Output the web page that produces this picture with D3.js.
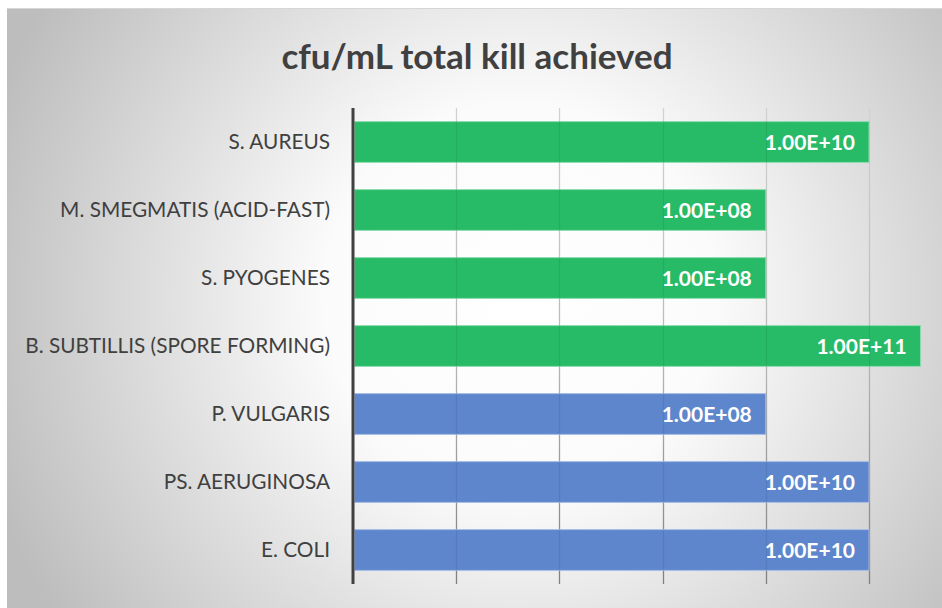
<!DOCTYPE html>
<html>
<head>
<meta charset="utf-8">
<script src="https://cdn.jsdelivr.net/npm/d3@7"></script>
<style>
html,body{margin:0;padding:0;background:#fff;}
svg{display:block;}
</style>
</head>
<body>
<script>
const title = "cfu/mL total kill achieved";
const categories = ["S. AUREUS","M. SMEGMATIS (ACID-FAST)","S. PYOGENES","B. SUBTILLIS (SPORE FORMING)","P. VULGARIS","PS. AERUGINOSA","E. COLI"];
const values = [1e10, 1e8, 1e8, 1e11, 1e8, 1e10, 1e10];
const groups = ["green","green","green","green","blue","blue","blue"];
const gridValues = [1e2, 1e4, 1e6, 1e8, 1e10];

const W = 942, H = 608;
const svg = d3.select("body").append("svg").attr("width", W).attr("height", H);
const defs = svg.append("defs");
const rg = defs.append("radialGradient").attr("id","bg")
  .attr("gradientUnits","userSpaceOnUse").attr("cx",520).attr("cy",300).attr("r",560);
rg.append("stop").attr("offset","0").attr("stop-color","#ffffff");
rg.append("stop").attr("offset","0.35").attr("stop-color","#fbfbfb");
rg.append("stop").attr("offset","1").attr("stop-color","#bdbdbd");
const gg = defs.append("linearGradient").attr("id","grid")
  .attr("gradientUnits","userSpaceOnUse").attr("x1",0).attr("y1",108).attr("x2",0).attr("y2",584);
gg.append("stop").attr("offset","0").attr("stop-color","#e2e2e2");
gg.append("stop").attr("offset","0.5").attr("stop-color","#c8c8c8");
gg.append("stop").attr("offset","1").attr("stop-color","#8a8a8a");

// chart area
svg.append("rect").attr("x",7).attr("y",8).attr("width",W-7).attr("height",H-8).attr("fill","url(#bg)");
svg.append("line").attr("x1",7).attr("x2",W).attr("y1",8.5).attr("y2",8.5).attr("stroke","#d6d6d6").attr("stroke-width",1);

const x = d3.scaleLog().domain([1, 1e11]).range([353, 920.6]);
const y = d3.scaleBand().domain(categories).range([108, 584]).paddingInner(0.4).paddingOuter(0.2);

// gridlines (under bars)
svg.append("g").selectAll("line").data(gridValues).join("line")
  .attr("x1", d => Math.round(x(d)) + 0.5).attr("x2", d => Math.round(x(d)) + 0.5)
  .attr("y1", 108).attr("y2", 584)
  .attr("stroke","url(#grid)").attr("stroke-width",1.3);

const colors = {green:"#27bb68", blue:"#5e86cc"};
const borders = {green:"#8fdcae", blue:"#a9bde4"};

// bars
svg.append("g").selectAll("rect").data(values).join("rect")
  .attr("x", 354.5)
  .attr("y", (d,i) => y(categories[i]))
  .attr("width", d => x(d) - 354.5)
  .attr("height", y.bandwidth())
  .attr("fill", (d,i) => colors[groups[i]])
  .attr("stroke", (d,i) => borders[groups[i]])
  .attr("stroke-width", 1);

// faint gridlines showing through bars
svg.append("g").selectAll("line").data(gridValues).join("line")
  .attr("x1", d => Math.round(x(d)) + 0.5).attr("x2", d => Math.round(x(d)) + 0.5)
  .attr("y1", 108).attr("y2", 584)
  .attr("stroke","#000").attr("stroke-opacity",0.07).attr("stroke-width",1.3);

// axis line
svg.append("line").attr("x1",353).attr("x2",353).attr("y1",108).attr("y2",584)
  .attr("stroke","#404040").attr("stroke-width",3);

const fmt = v => {
  const s = v.toExponential(2).toUpperCase();
  return s.replace(/E([+-])(\d)$/, "E$10$2");
};

// value labels
svg.append("g").selectAll("text").data(values).join("text")
  .attr("x", d => x(d) - 14)
  .attr("y", (d,i) => y(categories[i]) + y.bandwidth()/2)
  .attr("dy","0.36em")
  .attr("text-anchor","end")
  .attr("font-family","Lato, 'Open Sans', sans-serif")
  .attr("font-weight","bold")
  .attr("font-size",21)
  .attr("fill","#ffffff")
  .text(d => fmt(d));

// category labels
svg.append("g").selectAll("text").data(categories).join("text")
  .attr("x", 330)
  .attr("y", d => y(d) + y.bandwidth()/2)
  .attr("dy","0.36em")
  .attr("text-anchor","end")
  .attr("font-family","Lato, 'Open Sans', sans-serif")
  .attr("font-size",20.8)
  .attr("fill","#404040")
  .text(d => d);

// title
svg.append("text").attr("x",477).attr("y",69)
  .attr("text-anchor","middle")
  .attr("font-family","Lato, 'Open Sans', sans-serif")
  .attr("font-weight","bold")
  .attr("font-size",35)
  .attr("fill","#404040")
  .text(title);
</script>
</body>
</html>
